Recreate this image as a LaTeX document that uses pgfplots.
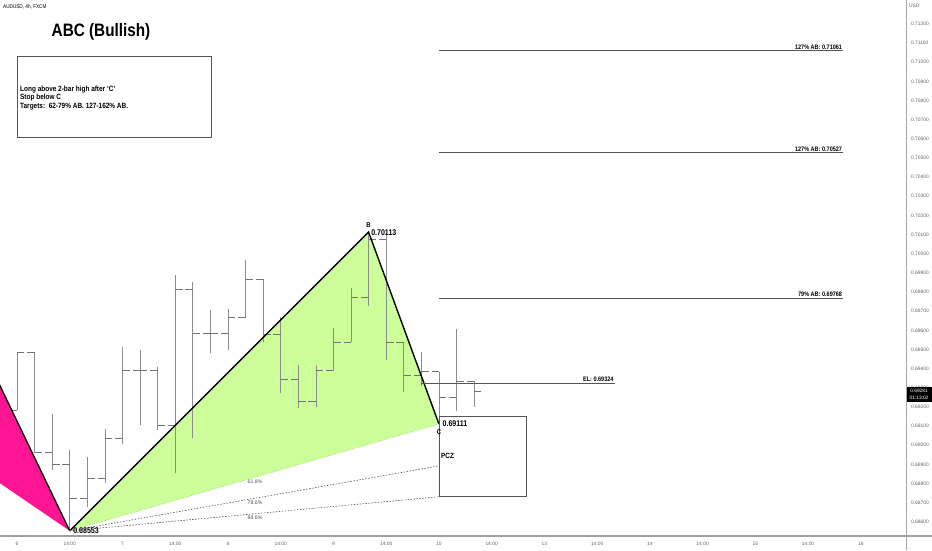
\documentclass[border=0pt]{standalone}
\usepackage{fontspec}
\setmainfont{Liberation Sans}
\newfontfamily\nf[FakeStretch=0.85]{Liberation Sans}
\usepackage{pgfplots}
\usepackage{pgfplotstable}
\pgfplotsset{compat=1.18}

\definecolor{pinkc}{RGB}{255,20,147}
\definecolor{greenc}{RGB}{204,255,153}
\definecolor{greenedge}{RGB}{170,220,120}
\definecolor{barc}{RGB}{140,140,140}
\definecolor{tickc}{RGB}{115,115,115}
\definecolor{linec}{RGB}{85,85,85}
\definecolor{labc}{RGB}{100,100,100}

% 4h bars: index, open, high, low, close
\pgfplotstableread{
i  O       H       L       C
0  0.69184 0.69482 0.69184 0.69482
1  0.69482 0.69482 0.68960 0.68960
2  0.68960 0.69163 0.68871 0.68902
3  0.68902 0.68975 0.68553 0.68720
4  0.68720 0.68939 0.68678 0.68824
5  0.68824 0.69085 0.68803 0.69038
6  0.69038 0.69513 0.69007 0.69388
7  0.69388 0.69498 0.69106 0.69388
8  0.69388 0.69409 0.69080 0.69101
9  0.69101 0.69889 0.68855 0.69811
10 0.69811 0.69853 0.69038 0.69586
11 0.69586 0.69707 0.69482 0.69586
12 0.69586 0.69712 0.69498 0.69665
13 0.69665 0.69968 0.69665 0.69868
14 0.69868 0.69868 0.69539 0.69581
15 0.69581 0.69670 0.69273 0.69346
16 0.69346 0.69419 0.69195 0.69231
17 0.69231 0.69419 0.69200 0.69388
18 0.69388 0.69612 0.69388 0.69539
19 0.69539 0.69821 0.69539 0.69774
20 0.69774 0.70113 0.69727 0.70072
21 0.70072 0.70109 0.69445 0.69539
22 0.69539 0.69539 0.69278 0.69367
23 0.69367 0.69487 0.69310 0.69383
24 0.69383 0.69383 0.69111 0.69252
25 0.69252 0.69607 0.69179 0.69331
26 0.69331 0.69336 0.69200 0.69281
}\bars

\newcommand{\lbl}[1]{\nf\bfseries\fontsize{#1}{#1}\selectfont}

\begin{document}
\begin{tikzpicture}[x=1pt,y=1pt]
\path[use as bounding box] (0,0) rectangle (932,550);
\begin{axis}[
  at={(0pt,14pt)}, anchor=south west,
  scale only axis, width=906pt, height=536pt,
  xmin=-0.967, xmax=50.57, ymin=0.68526, ymax=0.71325,
  axis x line*=bottom, axis y line*=right,
  axis line style={draw=none},
  major tick length=0pt,
  xtick={0,3,...,48},
  xticklabels={6,14:00,7,14:00,8,14:00,9,14:00,10,14:00,13,14:00,14,14:00,15,14:00,16},
  ytick={0.686,0.687,0.688,0.689,0.690,0.691,0.692,0.693,0.694,0.695,0.696,0.697,0.698,0.699,
         0.700,0.701,0.702,0.703,0.704,0.705,0.706,0.707,0.708,0.709,0.710,0.711,0.712},
  scaled y ticks=false,
  tick label style={font=\fontsize{4.9}{5}\selectfont, text=labc},
  yticklabel style={xshift=1.5pt, /pgf/number format/.cd, fixed, fixed zerofill, precision=5, assume math mode=true},
  xticklabel style={yshift=-2.5pt},
]
% previous leg (pink)
\addplot[fill=pinkc, draw=none] coordinates {(-2,0.69508) (3,0.68553) (-2,0.68866)} --cycle;
% ABC area
\addplot[fill=greenc, draw=none] coordinates {(3,0.68553) (20,0.70113) (24,0.69111)} --cycle;

% OHLC bars
\addplot[barc, line width=0.7pt, quiver={u=0, v=\thisrow{H}-\thisrow{L}}] table[x=i, y=L] {\bars};
\addplot[tickc, line width=0.9pt, quiver={u=-0.42, v=0}] table[x=i, y=O] {\bars};
\addplot[tickc, line width=0.9pt, quiver={u=0.42, v=0}] table[x=i, y=C] {\bars};

% pattern legs
\addplot[black, line width=1.3pt] coordinates {(-2,0.69508) (3,0.68553)};
\addplot[black, line width=1.4pt] coordinates {(3,0.68553) (20,0.70113) (24,0.69111)};
\addplot[greenedge, line width=0.6pt, dash pattern=on 1.5pt off 1.5pt] coordinates {(3,0.68553) (24,0.69111)};
\addplot[linec, line width=0.6pt, dash pattern=on 1.5pt off 1.5pt] coordinates {(3,0.68553) (24,0.68892)};
\addplot[linec, line width=0.6pt, dash pattern=on 1.5pt off 1.5pt] coordinates {(3,0.68553) (24,0.68731)};

% PCZ box
\addplot[linec, line width=0.7pt] coordinates {(24,0.69153) (29,0.69153) (29,0.68735) (24,0.68735)} --cycle;

% targets and entry
\addplot[linec, line width=0.8pt] coordinates {(24,0.71061) (47,0.71061)};
\addplot[linec, line width=0.8pt] coordinates {(24,0.70527) (47,0.70527)};
\addplot[linec, line width=0.8pt] coordinates {(24,0.69768) (47,0.69768)};
\addplot[linec, line width=0.8pt] coordinates {(23,0.69324) (34,0.69324)};

\node[anchor=south east, inner sep=1pt, font=\lbl{6.5}] at (axis cs:47,0.71061) {127\% AB: 0.71061};
\node[anchor=south east, inner sep=1pt, font=\lbl{6.5}] at (axis cs:47,0.70527) {127\% AB: 0.70527};
\node[anchor=south east, inner sep=1pt, font=\lbl{6.5}] at (axis cs:47,0.69768) {79\% AB: 0.69768};
\node[anchor=south east, inner sep=1pt, font=\lbl{6.5}] at (axis cs:34,0.69324) {EL: 0.69324};

% point labels
\node[font=\lbl{7}] at (axis cs:20,0.70152) {B};
\node[anchor=west, inner sep=0pt, font=\lbl{8.3}] at (axis cs:20.14,0.70109) {0.70113};
\node[anchor=west, inner sep=0pt, font=\lbl{8.3}] at (axis cs:24.2,0.69111) {0.69111};
\node[font=\lbl{7}] at (axis cs:24,0.69070) {C};
\node[anchor=west, inner sep=0pt, font=\lbl{8.3}] at (axis cs:3.19,0.68553) {0.68553};
\node[anchor=west, inner sep=0pt, font=\lbl{7.5}] at (axis cs:24.12,0.68944) {PCZ};

\node[text=linec, font=\fontsize{5.2}{5}\selectfont] at (axis cs:13.54,0.68808) {61.8\%};
\node[text=linec, font=\fontsize{5.2}{5}\selectfont] at (axis cs:13.54,0.68699) {78.6\%};
\node[text=linec, font=\fontsize{5.2}{5}\selectfont] at (axis cs:13.54,0.68620) {88.6\%};

% header, title and note box
\node[anchor=west, inner sep=0pt, font=\nf\fontsize{5.5}{5.5}\selectfont] at (axis cs:-0.80,0.71289) {AUDUSD, 4h, FXCM};
\node[font=\lbl{18}] at (axis cs:4.78,0.71158) {ABC (Bullish)};
\draw[linec, line width=0.7pt] (axis cs:0,0.710329) rectangle (axis cs:11.035,0.706099);
\node[anchor=west, align=left, inner sep=0pt, font=\nf\bfseries\fontsize{7.6}{8.5}\selectfont]
  at (axis cs:0.17,0.70814) {Long above 2-bar high after ‘C’\\Stop below C\\Targets:\ \ 62-79\% AB. 127-162\% AB.};
\end{axis}

% frame lines and price tag
\draw[gray!75, line width=1.2pt] (0,14) -- (932,14);
\draw[gray!70, line width=0.7pt] (906,0) -- (906,550);
\node[anchor=west, inner sep=0pt, text=labc, font=\fontsize{4.9}{5}\selectfont] at (909,544) {USD};
\fill[black] (906.5,148) rectangle (932,163);
\node[text=white, inner sep=0pt, font=\fontsize{4.8}{5}\selectfont] at (919,159) {0.69281};
\node[text=white, inner sep=0pt, font=\fontsize{4.8}{5}\selectfont] at (919,152) {01:13:02};
\end{tikzpicture}
\end{document}
